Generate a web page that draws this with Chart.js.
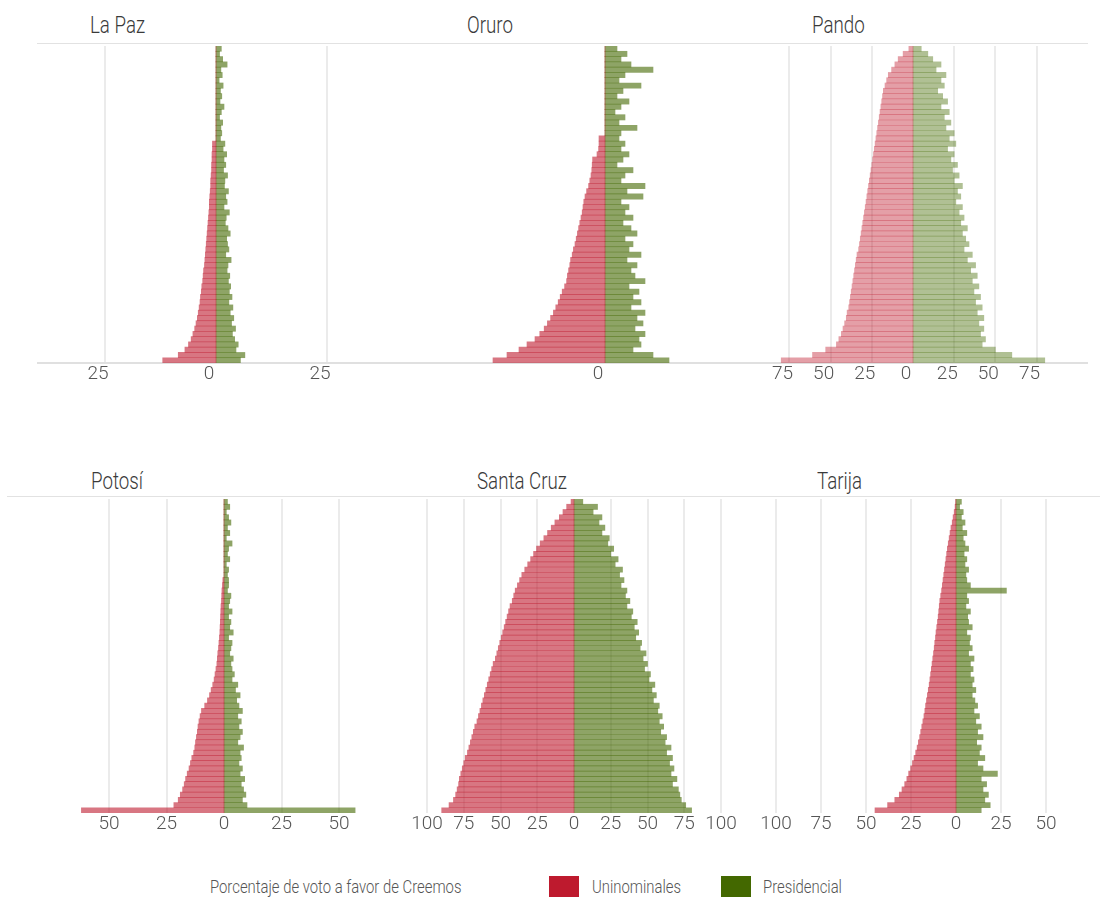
<!DOCTYPE html>
<html lang="es">
<head>
<meta charset="utf-8">
<title>Porcentaje de voto a favor de Creemos</title>
<script src="https://cdn.jsdelivr.net/npm/chart.js@4.4.1/dist/chart.umd.min.js"></script>
<style>
  body { margin: 0; background: #fff; }
  #wrap { position: relative; width: 1100px; height: 898px; font-family: Roboto, 'DejaVu Sans Condensed', sans-serif; font-weight: 300; color: #444; }
  .panel { position: absolute; }
  .narrow { position: absolute; white-space: nowrap; transform-origin: 0 50%; transform: scaleX(0.78); }
  .title { font-size: 24px; line-height: 24px; color: #3a3a3a; }
  .rule { position: absolute; height: 1px; background: #e2e2e2; }
  .legend { font-size: 18px; line-height: 18px; color: #555; top: 878px; transform: scaleX(0.825); }
  .swatch { position: absolute; top: 876px; width: 30px; height: 21px; }
</style>
</head>
<body>
<div id="wrap">
  <div class="rule" style="left:37px; width:1051px; top:43px;"></div>
  <div class="rule" style="left:7px; width:1093px; top:496px;"></div>
  <span class="narrow legend" style="left:210px;">Porcentaje de voto a favor de Creemos</span>
  <span class="swatch" style="left:549px; background:#be1a2e;"></span>
  <span class="narrow legend" style="left:592px;">Uninominales</span>
  <span class="swatch" style="left:721px; background:#436800;"></span>
  <span class="narrow legend" style="left:763px;">Presidencial</span>
</div>
<script>
// cada fila = una mesa/recinto, ordenadas por el voto uninominal
const laPazUninominales = [0, 0, 0, 0, 0, 0, 0, 0, 0, 0, 0, 0, 0, 0, 0, 0, 0, 0,
  0.8, 0.8, 0.9, 0.9, 1.0, 1.0, 1.1, 1.2, 1.2, 1.3, 1.4, 1.5, 1.5, 1.6, 1.7, 1.8, 1.9, 2.0, 2.1, 2.2,
  2.3, 2.4, 2.5, 2.6, 2.8, 2.9, 3.0, 3.2, 3.3, 3.5, 3.6, 3.8, 4.0, 4.2, 4.5, 4.8, 5.2, 5.6, 6.2, 7.0, 8.5, 12];
const laPazPresidencial = [1.2, 0.8, 1.5, 2.5, 1.1, 1.4, 0.7, 1.6, 1.0, 1.3, 0.9, 1.8, 1.2, 0.8, 1.5, 1.1, 1.3, 1.0,
  2.0, 1.6, 2.4, 1.8, 2.2, 1.7, 2.6, 2.0, 1.9, 2.8, 2.2, 2.5, 1.8, 3.0, 2.3, 2.1, 2.7, 3.2, 2.4, 2.6,
  2.9, 2.2, 3.4, 2.7, 2.5, 3.1, 2.8, 3.3, 3.0, 3.6, 2.9, 3.8, 3.2, 4.0, 3.5, 4.4, 3.7, 4.2, 5.0, 4.5, 6.5, 5.5];

const oruroUninominales = [0, 0, 0, 0, 0, 0, 0, 0, 0, 0, 0, 0, 0, 0, 0, 0, 0,
  1.5, 1.5, 1.6, 2.0, 3.1, 3.2, 3.3, 3.5, 3.8, 4.1, 4.6, 5.0, 5.3, 5.5, 5.7, 6.0, 6.3, 6.6, 6.9, 7.2,
  7.5, 7.9, 8.2, 8.6, 8.8, 9.1, 9.4, 9.6, 10.1, 10.7, 11.2, 11.7, 12.3, 12.9, 13.6, 14.4, 15.2, 16.3,
  17.5, 19.5, 21.5, 24.5, 28];
const oruroPresidencial = [3, 5.5, 4, 6.5, 12, 5, 3.5, 9, 4.5, 3, 6, 4, 2.5, 5, 3.5, 8, 4,
  3.5, 5, 4, 6, 4.5, 3, 7, 5, 4, 10, 5.5, 9.5, 4, 6, 5, 7, 4.5, 6.5, 8, 5, 7, 6, 9, 5.5, 8, 6.5,
  7.5, 10, 6, 8.5, 7, 9, 6.5, 10, 8, 9.5, 7.5, 10, 8.5, 9, 7, 12, 16];

const pandoUninominales = [2.5, 6, 9, 11, 13, 15, 16, 17, 18, 18.5, 19, 19.5, 20, 20.5, 21, 21.5, 22, 22.5,
  23, 23.5, 24, 24.5, 25, 25.5, 26, 26.5, 27, 27.5, 28, 28.5, 29, 29.5, 30, 30.5, 31, 31.5, 32, 32.5,
  33, 34, 34.5, 35, 35.5, 36, 36.5, 37, 37.5, 38, 38.5, 39, 40, 40.5, 41.5, 42.5, 43.5, 45, 46.5, 53, 61, 80];
const pandoPresidencial = [5, 9, 12, 17, 14, 20, 17, 19, 15, 18, 21, 17, 22, 19, 23, 20, 25, 22, 26, 21,
  25, 23, 27, 24, 28, 25, 30, 27, 29, 26, 30, 28, 31, 29, 33, 30, 32, 34, 31, 36, 33, 38, 35, 39, 36,
  40, 37, 41, 38, 42, 39, 43, 40, 43, 41, 44, 42, 50, 60, 80];

const potosiUninominales = [0, 0, 0, 0, 0, 0, 0, 0, 0, 0, 0, 0, 0, 0, 0, 0.5,
  0.7, 0.9, 1.0, 1.1, 1.3, 1.4, 1.5, 1.6, 1.7, 1.8, 2.0, 2.2, 2.4, 2.7, 2.9, 3.1, 3.5, 3.9, 4.3, 4.9,
  5.6, 6.3, 7.2, 8.4, 9.8, 10.4, 10.9, 11.3, 11.6, 12.0, 12.4, 12.7, 13.2, 14.0, 14.6, 15.2, 16.0,
  16.7, 17.3, 18.0, 19.0, 19.9, 21.8, 62];
const potosiPresidencial = [1.5, 2.5, 1, 2, 3, 1.5, 2.5, 1, 3.5, 2, 1.5, 2.5, 1, 2, 1.5, 2,
  2, 1.5, 3, 2.5, 2, 3.5, 2, 3, 2.5, 4, 2, 3.5, 3, 2.5, 4, 3, 3.5, 4.5, 3.5,
  6, 5, 7, 5.5, 6.5, 8, 6, 7.5, 6.5, 8, 7, 6, 8.5, 7, 7.5, 6.5, 8, 7, 9, 7.5, 8.5, 9.5, 8, 10, 57];

const santaCruzUninominales = [2, 5, 7.5, 10, 13, 15.5, 18, 20.5, 23, 25.5, 27.5, 29.5, 31.5, 33.5, 35.5,
  37, 38.5, 40, 41, 42, 43.5, 44.5, 45.5, 46.5, 47.5, 48.5, 49.5, 50.5, 51.5, 52.5, 53.5, 55, 56, 57,
  58, 59, 60, 61, 62, 63, 64, 65, 66, 67.5, 68.5, 69.5, 70.5, 71.5, 72.5, 74, 75, 76, 77, 78, 78.5,
  79.5, 80.5, 82, 85, 90];
const santaCruzPresidencial = [6, 16, 13, 19, 17, 21, 19, 24, 23, 27, 25, 30, 28, 33, 31, 34, 32, 36, 35,
  38, 36, 40, 39, 43, 41, 44, 42, 46, 45, 49, 47, 50, 48, 52, 51, 55, 53, 56, 54, 58, 57, 60, 58, 61,
  59, 63, 62, 66, 63, 67, 65, 68, 66, 70, 67, 71, 72, 73, 76, 80];

const tarijaUninominales = [0.2, 0.5, 1, 1.6, 2.1, 2.8, 3.3, 3.8, 4.3, 4.8, 5.2, 5.6, 6.0, 6.4, 6.8, 7.2,
  7.6, 8.0, 8.5, 9.0, 9.3, 9.6, 9.9, 10.3, 10.7, 11.1, 11.4, 11.8, 12.1, 12.5, 12.9, 13.3, 13.7, 14.1,
  14.5, 14.9, 15.4, 15.9, 16.4, 16.9, 17.3, 17.8, 18.4, 19.0, 19.6, 20.2, 20.9, 21.6, 22.4, 23.3, 24.2,
  25.2, 26.3, 27.3, 28.5, 30, 31.5, 34, 38, 45];
const tarijaPresidencial = [3, 2, 4, 3, 5, 3.5, 6, 4, 5, 7, 4.5, 6, 5, 7, 5.5, 6, 8, 28, 6, 7,
  5.5, 8, 6.5, 7, 9, 6, 8, 7.5, 9, 7, 10, 8, 9.5, 8, 10, 9, 11, 9, 10.5, 12,
  10, 13, 11, 14, 12, 15, 11.5, 14, 13, 16, 12, 15, 23, 14, 17, 15, 18, 16, 19, 14];

const laPazTicks = [-25, 0, 25];
const oruroTicks = [0];
const pandoTicks = [-75, -50, -25, 0, 25, 50, 75];
const potosiTicks = [-50, -25, 0, 25, 50];
const santaCruzTicks = [-100, -75, -50, -25, 0, 25, 50, 75, 100];
const tarijaTicks = [-100, -75, -50, -25, 0, 25, 50];

// posicion de cada panel en la pagina (x del cero y pixeles por punto)
const panels = [
  { name: 'La Paz', uni: laPazUninominales, pres: laPazPresidencial, ticks: laPazTicks,
    left: 37, width: 343, zero: 216, ppu: 4.44, row: 0, titleX: 90, alpha: 0.6 },
  { name: 'Oruro', uni: oruroUninominales, pres: oruroPresidencial, ticks: oruroTicks,
    left: 380, width: 350, zero: 605, ppu: 4, row: 0, titleX: 467, alpha: 0.6 },
  { name: 'Pando', uni: pandoUninominales, pres: pandoPresidencial, ticks: pandoTicks,
    left: 730, width: 358, zero: 913, ppu: 1.647, row: 0, titleX: 812, alpha: 0.42 },
  { name: 'Potosí', uni: potosiUninominales, pres: potosiPresidencial, ticks: potosiTicks,
    left: 7, width: 368, zero: 224, ppu: 2.3, row: 1, titleX: 91, alpha: 0.6 },
  { name: 'Santa Cruz', uni: santaCruzUninominales, pres: santaCruzPresidencial, ticks: santaCruzTicks,
    left: 375, width: 365, zero: 574, ppu: 1.47, row: 1, titleX: 477, alpha: 0.6 },
  { name: 'Tarija', uni: tarijaUninominales, pres: tarijaPresidencial, ticks: tarijaTicks,
    left: 740, width: 360, zero: 956, ppu: 1.8, row: 1, titleX: 817, alpha: 0.6 }
];

const rows = [
  { top: 46, plotH: 317, titleTop: 13, border: true, labelOffset: -7 },
  { top: 499, plotH: 314, titleTop: 469, border: false, labelOffset: 0 }
];
const AXIS_H = 34;

Chart.defaults.font.family = "Roboto, 'DejaVu Sans Condensed', sans-serif";
Chart.defaults.color = '#555';

const wrap = document.getElementById('wrap');
const isZero = c => c.tick && c.tick.value === 0;

panels.forEach(p => {
  const r = rows[p.row];

  const title = document.createElement('div');
  title.className = 'narrow title';
  title.style.left = p.titleX + 'px';
  title.style.top = r.titleTop + 'px';
  title.textContent = p.name;
  wrap.appendChild(title);

  const box = document.createElement('div');
  box.className = 'panel';
  box.style.left = p.left + 'px';
  box.style.top = r.top + 'px';
  box.style.width = p.width + 'px';
  box.style.height = (r.plotH + AXIS_H) + 'px';
  const canvas = document.createElement('canvas');
  box.appendChild(canvas);
  wrap.appendChild(box);

  new Chart(canvas, {
    type: 'bar',
    data: {
      labels: p.uni.map((v, i) => i + 1),
      datasets: [
        {
          label: 'Uninominales',
          data: p.uni.map(v => -v),
          backgroundColor: 'rgba(190, 26, 46, ' + p.alpha + ')',
          borderWidth: 0,
          grouped: false,
          barPercentage: 1,
          categoryPercentage: 1
        },
        {
          label: 'Presidencial',
          data: p.pres,
          backgroundColor: 'rgba(67, 104, 0, ' + p.alpha + ')',
          borderWidth: 0,
          grouped: false,
          barPercentage: 1,
          categoryPercentage: 1
        }
      ]
    },
    options: {
      indexAxis: 'y',
      responsive: true,
      maintainAspectRatio: false,
      animation: false,
      layout: { padding: 0 },
      scales: {
        x: {
          min: (p.left - p.zero) / p.ppu,
          max: (p.left + p.width - p.zero) / p.ppu,
          afterBuildTicks: s => { s.ticks = p.ticks.map(v => ({ value: v })); },
          afterFit: s => { s.height = AXIS_H; },
          grid: {
            color: c => (isZero(c) ? 'rgba(0,0,0,0)' : '#ebebeb'),
            lineWidth: c => (isZero(c) ? 0 : 2),
            drawTicks: false
          },
          border: { display: r.border, color: '#e0e0e0', width: 2 },
          ticks: {
            padding: 0,
            labelOffset: r.labelOffset,
            maxRotation: 0,
            autoSkip: false,
            font: { size: 19, weight: '300' },
            color: '#555',
            callback: v => Math.abs(v)
          }
        },
        y: { display: false }
      },
      plugins: {
        legend: { display: false },
        tooltip: { enabled: false }
      }
    }
  });
});
</script>
</body>
</html>
